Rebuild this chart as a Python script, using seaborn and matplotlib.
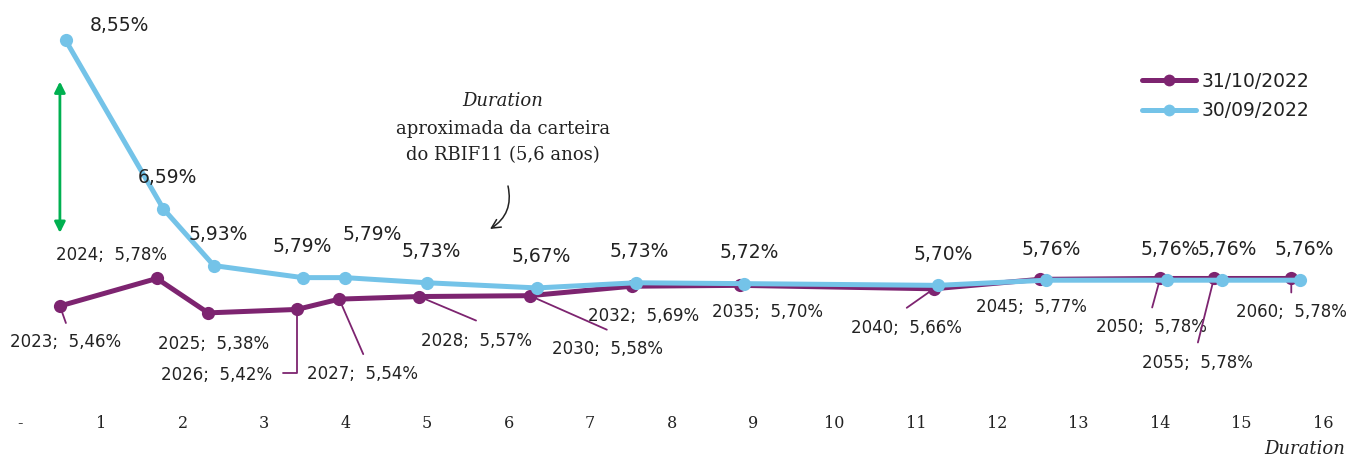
import pandas as pd
import matplotlib.pyplot as plt
import seaborn as sns
from matplotlib.lines import Line2D

# ==========================================================
# Data
# ==========================================================

series_names = ["31/10/2022", "30/09/2022"]
series_colors = ["#7D2470", "#74C3E8"]

# 31/10/2022 : duration (anos), taxa (%), vencimento
dur_out = [0.49, 1.68, 2.31, 3.40, 3.92, 4.90, 6.26, 7.51, 8.84, 11.22, 12.52, 14.00, 14.66, 15.61]
tx_out = [5.46, 5.78, 5.38, 5.42, 5.54, 5.57, 5.58, 5.69, 5.70, 5.66, 5.77, 5.78, 5.78, 5.78]
year_out = [2023, 2024, 2025, 2026, 2027, 2028, 2030, 2032, 2035, 2040, 2045, 2050, 2055, 2060]

# 30/09/2022
dur_set = [0.56, 1.76, 2.38, 3.47, 3.99, 5.00, 6.35, 7.56, 8.89, 11.27, 12.60, 14.08, 14.76, 15.72]
tx_set = [8.55, 6.59, 5.93, 5.79, 5.79, 5.73, 5.67, 5.73, 5.72, 5.70, 5.76, 5.76, 5.76, 5.76]

x_ticks = list(range(17))
x_tick_labels = ["-"] + [str(i) for i in range(1, 17)]

# label placement (pixel offsets from each point)
out_label_off = [(6, -36), (-45, 23), (5, -31), (-80, -66), (23, -75), (57, -44), (78, -53),
                 (12, -30), (28, -27), (-27, -39), (-8, -28), (-9, -49), (-16, -85), (0, -34)]
out_leader_end = [(6, -17), None, None, "elbow", (24, -55), (57, -24), (77, -34),
                  None, None, (-27, -19), None, (-8, -29), (-16, -64), (0, -14)]
set_label_off = [(54, 15), (4, 31), (4, 31), (0, 31), (27, 43), (4, 31), (4, 31),
                 (4, 31), (5, 31), (5, 31), (5, 31), (4, 31), (5, 31), (4, 31)]

df = pd.concat([
    pd.DataFrame({"duration": dur_out, "taxa": tx_out, "data": series_names[0]}),
    pd.DataFrame({"duration": dur_set, "taxa": tx_set, "data": series_names[1]}),
])

# ==========================================================
# Style
# ==========================================================

sns.set_style("white")
plt.rcParams["font.family"] = ["DejaVu Sans"]
plt.rcParams["text.color"] = "#222222"

fig = plt.figure(figsize=(13.48, 4.57), dpi=100)
ax = fig.add_axes([0, 57 / 457, 1, 400 / 457])

sns.lineplot(
    data=df,
    x="duration",
    y="taxa",
    hue="data",
    hue_order=series_names,
    palette=series_colors,
    sort=False,
    marker="o",
    markersize=9.5,
    markeredgewidth=0,
    linewidth=3.6,
    legend=False,
    ax=ax
)

ax.set_xlim(-20 / 81.44, 1328 / 81.44)
ax.set_ylim(4.367, 9.018)
sns.despine(ax=ax, left=True, bottom=True)
ax.set_xlabel("")
ax.set_ylabel("")
ax.set_yticks([])
ax.set_xticks(x_ticks)
ax.set_xticklabels(x_tick_labels, family="DejaVu Serif", fontsize=11.5, color="#222222")
ax.tick_params(axis="x", length=0, pad=11)


def fmt(v):
    return f"{v:.2f}".replace(".", ",") + "%"


purple, blue = series_colors

# ----- labels 31/10/2022 -----
for x, y, yr, off, lead in zip(dur_out, tx_out, year_out, out_label_off, out_leader_end):
    ax.annotate(f"{yr};  {fmt(y)}", xy=(x, y), xytext=off, textcoords="offset pixels",
                ha="center", va="center", fontsize=12)
    if lead == "elbow":
        ax.annotate("", xy=(x, y), xytext=(-14, -64), textcoords="offset pixels",
                    arrowprops=dict(arrowstyle="-", color=purple, lw=1.3, shrinkA=0, shrinkB=4,
                                    connectionstyle="angle,angleA=0,angleB=90,rad=0"))
    elif lead is not None:
        ax.annotate("", xy=(x, y), xytext=lead, textcoords="offset pixels",
                    arrowprops=dict(arrowstyle="-", color=purple, lw=1.3, shrinkA=0, shrinkB=4))

# ----- labels 30/09/2022 -----
for x, y, off in zip(dur_set, tx_set, set_label_off):
    ax.annotate(fmt(y), xy=(x, y), xytext=off, textcoords="offset pixels",
                ha="center", va="center", fontsize=13.5)

# ----- green spread arrow -----
ax.annotate("", xy=(dur_out[0], 8.07), xytext=(dur_out[0], 6.31),
            arrowprops=dict(arrowstyle="<|-|>", color="#00B050", lw=2,
                            mutation_scale=16, shrinkA=0, shrinkB=0))

# ----- duration note -----
fig.text(503 / 1348, 1 - 101 / 457, "Duration", family="DejaVu Serif", style="italic",
         fontsize=13, ha="center", va="center")
fig.text(503 / 1348, 1 - 129 / 457, "aproximada da carteira", family="DejaVu Serif",
         fontsize=13, ha="center", va="center")
fig.text(503 / 1348, 1 - 155 / 457, "do RBIF11 (5,6 anos)", family="DejaVu Serif",
         fontsize=13, ha="center", va="center")
ax.annotate("", xy=(490, 457 - 229), xycoords="figure pixels",
            xytext=(508, 457 - 186), textcoords="figure pixels",
            arrowprops=dict(arrowstyle="->", color="#222222", lw=1.1, shrinkA=0, shrinkB=0,
                            mutation_scale=16, connectionstyle="arc3,rad=-0.35"))

# ----- axis title -----
fig.text(1345 / 1348, 8 / 457, "Duration", family="DejaVu Serif", style="italic",
         fontsize=13, ha="right", va="center")

# ----- legend -----
handles = [Line2D([], [], color=c, lw=3.6, marker="o", markersize=8.5, markeredgewidth=0)
           for c in series_colors]
ax.legend(handles, series_names, loc="upper left", bbox_to_anchor=(1142, 457 - 72),
          bbox_transform=None, frameon=False, fontsize=13.5, handlelength=2.9,
          handletextpad=0.3, labelspacing=0.55, borderpad=0, borderaxespad=0)
ax.get_legend().set_bbox_to_anchor((1142 / 1348, 1 - 72 / 457), transform=fig.transFigure)

fig.savefig("out.png", dpi=100)
